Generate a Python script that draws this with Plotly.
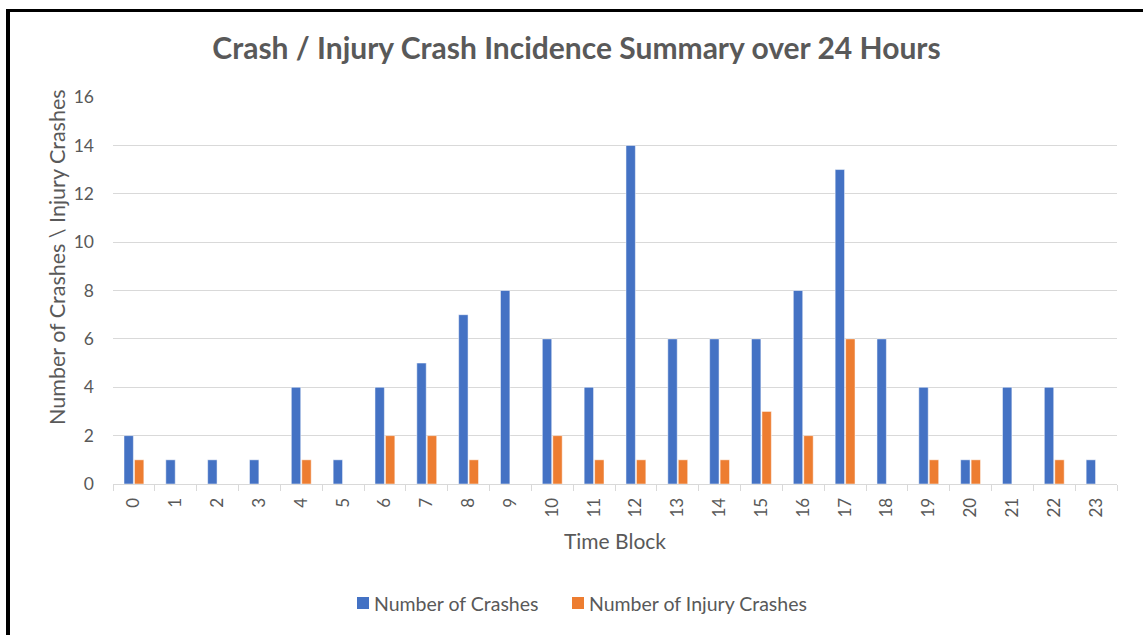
import plotly.graph_objects as go

time_blocks = [str(i) for i in range(24)]
crashes = [2, 1, 1, 1, 4, 1, 4, 5, 7, 8, 6, 4, 14, 6, 6, 6, 8, 13, 6, 4, 1, 4, 4, 1]
injury_crashes = [1, 0, 0, 0, 1, 0, 2, 2, 1, 0, 2, 1, 1, 1, 1, 3, 2, 6, 0, 1, 1, 0, 1, 0]
y_ticks = [0, 2, 4, 6, 8, 10, 12, 14, 16]
series_names = ["Number of Crashes", "Number of Injury Crashes"]
series_colors = ["#4472C4", "#ED7D31"]

W, H = 1143, 635
L, R, T, B = 113, 26, 97, 151
pw, ph = W - L - R, H - T - B

def px(x):
    return (x - L) / pw

def py(y):
    return (H - B - y) / ph

FONT = "Lato"
GRAY = "#595959"

fig = go.Figure()
for name, vals, col in zip(series_names, [crashes, injury_crashes], series_colors):
    fig.add_trace(go.Bar(x=time_blocks, y=vals, name=name, showlegend=False,
                         marker=dict(color=col, line=dict(color="#ffffff", width=0.5))))

fig.update_layout(
    width=W, height=H,
    margin=dict(l=L, r=R, t=T, b=B, autoexpand=False),
    paper_bgcolor="white", plot_bgcolor="white",
    barmode="group", bargap=0.5, bargroupgap=0.1,
    font=dict(family=FONT, color=GRAY),
    title=dict(text="<b>Crash / Injury Crash Incidence Summary over 24 Hours</b>",
               x=576.5 / W, xanchor="center", y=1 - 48 / H, yanchor="middle",
               font=dict(size=30, color=GRAY, family=FONT)),
    showlegend=False,
)
fig.update_xaxes(type="category", tickangle=-90, tickson="boundaries",
                 ticks="outside", ticklen=6, tickcolor="#d9d9d9",
                 showline=True, linecolor="#d9d9d9", linewidth=1,
                 showgrid=False, tickfont=dict(size=17, color=GRAY), ticklabelstandoff=6,
                 title=dict(text="Time Block", font=dict(size=21, color=GRAY), standoff=17))
fig.update_yaxes(range=[0, 16], tickvals=y_ticks, showgrid=True, gridcolor="#d9d9d9",
                 gridwidth=1, zeroline=False, showline=False, ticks="",
                 tickfont=dict(size=17.5, color=GRAY), ticklabelstandoff=18)

fig.add_annotation(text="Number of Crashes \\ Injury Crashes", textangle=-90,
                   xref="paper", yref="paper", x=px(57), y=py(257),
                   xanchor="center", yanchor="middle", showarrow=False,
                   font=dict(size=21.5, color=GRAY, family=FONT))

# legend (drawn manually for the tight Excel-style swatch spacing)
legend_x = [357, 572]
for lx, name, col in zip(legend_x, series_names, series_colors):
    fig.add_shape(type="rect", xref="paper", yref="paper",
                  x0=px(lx), x1=px(lx + 12), y0=py(597), y1=py(609),
                  line=dict(width=0), fillcolor=col)
    fig.add_annotation(text=name, xref="paper", yref="paper", x=px(lx + 15), y=py(603),
                       xanchor="left", yanchor="middle", showarrow=False,
                       font=dict(size=19.5, color=GRAY, family=FONT))

# frame border (screenshot edge)
fig.add_shape(type="line", xref="paper", yref="paper", x0=px(8), x1=px(8), y0=py(9), y1=py(H + 5),
              line=dict(color="black", width=4))
fig.add_shape(type="line", xref="paper", yref="paper", x0=px(6), x1=px(W + 5), y0=py(10.5), y1=py(10.5),
              line=dict(color="black", width=3))

fig.write_html("out.html", config={"displayModeBar": False},
               post_script="document.body.style.margin='0';")
